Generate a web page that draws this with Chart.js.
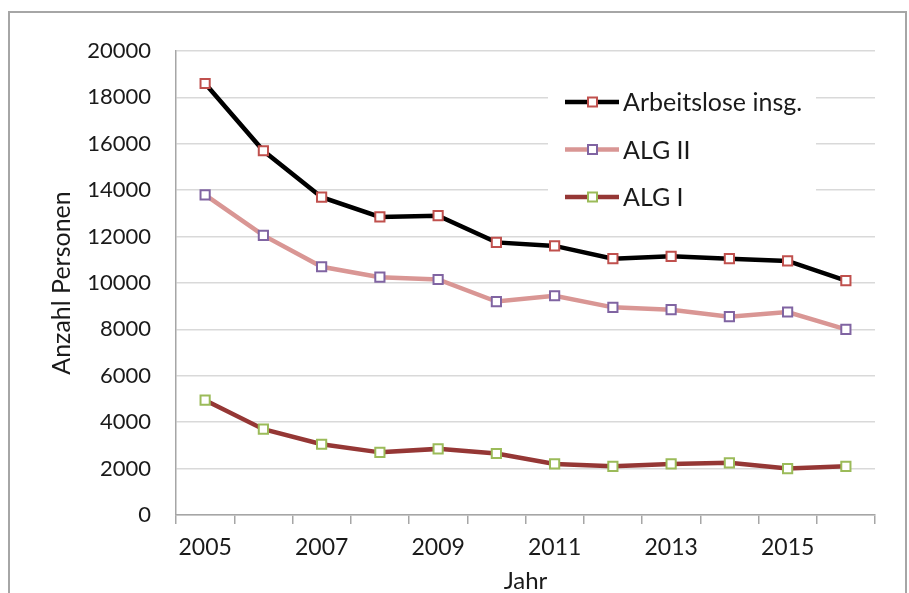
<!DOCTYPE html>
<html>
<head>
<meta charset="utf-8">
<script src="https://cdn.jsdelivr.net/npm/chart.js@4"></script>
<style>
  body { margin: 0; background: #fff; }
  #wrap { position: relative; width: 909px; height: 593px; }
  #frame { position: absolute; left: 8px; top: 11px; width: 895px; height: 600px;
           border: 2px solid #a6a6a6; pointer-events: none; }
</style>
</head>
<body>
<div id="wrap">
  <canvas id="chart" width="909" height="593"></canvas>
  <div id="frame"></div>
</div>
<script>
const years = ["2005", "2006", "2007", "2008", "2009", "2010", "2011", "2012", "2013", "2014", "2015", "2016"];
const arbeitslose = [18600, 15700, 13700, 12850, 12900, 11750, 11600, 11050, 11150, 11050, 10950, 10100];
const algII = [13800, 12050, 10700, 10250, 10150, 9200, 9450, 8950, 8850, 8550, 8750, 8000];
const algI = [4950, 3700, 3050, 2700, 2850, 2650, 2200, 2100, 2200, 2250, 2000, 2100];
const seriesNames = ["Arbeitslose insg.", "ALG II", "ALG I"];

const FONT = "Lato, Carlito, 'Open Sans', sans-serif";
const TEXT = "#1a1a1a";

function series(label, data, line, marker) {
  return {
    label: label,
    data: data,
    borderColor: line,
    borderWidth: 4.5,
    pointStyle: "rect",
    pointRadius: 6.5,
    pointHoverRadius: 6.5,
    pointBorderWidth: 2,
    pointBorderColor: marker,
    pointBackgroundColor: "#fff",
    tension: 0,
  };
}

// legend drawn inside the plot area, Excel style
const innerLegend = {
  id: "innerLegend",
  afterDraw(chart) {
    const ctx = chart.ctx;
    const area = chart.chartArea;
    const x0 = area.right - 327;
    const y0 = area.top + 24;
    ctx.save();
    ctx.fillStyle = "#fff";
    ctx.fillRect(x0, y0, 268, 145);
    ctx.font = "25px " + FONT;
    ctx.textBaseline = "middle";
    chart.data.datasets.forEach(function (ds, i) {
      const y = y0 + 27 + i * 47.5;
      const lx = x0 + 17;
      ctx.strokeStyle = ds.borderColor;
      ctx.lineWidth = ds.borderWidth;
      ctx.beginPath();
      ctx.moveTo(lx, y);
      ctx.lineTo(lx + 54, y);
      ctx.stroke();
      ctx.fillStyle = "#fff";
      ctx.fillRect(lx + 23, y - 4.5, 9, 9);
      ctx.strokeStyle = ds.pointBorderColor;
      ctx.lineWidth = 2;
      ctx.strokeRect(lx + 23, y - 4.5, 9, 9);
      ctx.fillStyle = TEXT;
      ctx.fillText(ds.label, lx + 58, y + 1);
    });
    ctx.restore();
  },
};

new Chart(document.getElementById("chart"), {
  type: "line",
  data: {
    labels: years,
    datasets: [
      series(seriesNames[0], arbeitslose, "#000000", "#c0504d"),
      series(seriesNames[1], algII, "#d99694", "#8064a2"),
      series(seriesNames[2], algI, "#953735", "#9bbb59"),
    ],
  },
  options: {
    responsive: false,
    animation: false,
    layout: { padding: { left: 0, right: 34, top: 51, bottom: 0 } },
    plugins: {
      legend: { display: false },
      tooltip: { enabled: false },
    },
    scales: {
      x: {
        offset: true,
        grid: {
          offset: true,
          drawOnChartArea: false,
          drawTicks: true,
          tickLength: 9,
          color: "#a6a6a6",
          lineWidth: 1.5,
        },
        border: { color: "#a6a6a6", width: 1.5 },
        ticks: {
          autoSkip: false,
          maxRotation: 0,
          padding: 10,
          color: TEXT,
          font: { family: FONT, size: 23 },
          callback: function (v, i) {
            return i % 2 === 0 ? this.getLabelForValue(v) : "";
          },
        },
        title: {
          display: true,
          text: "Jahr",
          color: TEXT,
          font: { family: FONT, size: 24 },
          padding: { top: 0, bottom: -3 },
        },
        afterFit: function (scale) { scale.height = 78; },
      },
      y: {
        min: 0,
        max: 20000,
        ticks: {
          stepSize: 2000,
          padding: 25,
          color: TEXT,
          font: { family: FONT, size: 22 },
          callback: function (v) { return String(v); },
        },
        grid: { color: "#d9d9d9", lineWidth: 1.5, drawTicks: false },
        border: { color: "#a6a6a6", width: 1.5 },
        title: {
          display: true,
          text: "Anzahl Personen",
          color: TEXT,
          font: { family: FONT, size: 25 },
          padding: { top: 47, bottom: 0 },
        },
        afterFit: function (scale) { scale.width = 176; },
      },
    },
  },
  plugins: [innerLegend],
});
</script>
</body>
</html>
